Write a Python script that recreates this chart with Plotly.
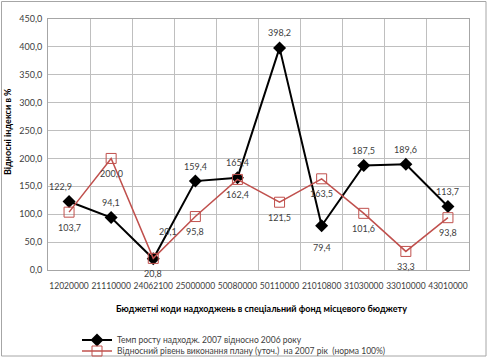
import plotly.graph_objects as go

categories = ["12020000", "21110000", "24062100", "25000000", "50080000",
              "50110000", "21010800", "31030000", "33010000", "43010000"]
growth = [122.9, 94.1, 20.1, 159.4, 165.4, 398.2, 79.4, 187.5, 189.6, 113.7]
plan = [103.7, 200.0, 20.8, 95.8, 162.4, 121.5, 163.5, 101.6, 33.3, 93.8]

name_growth = "Темп росту надходж. 2007 відносно 2006 року"
name_plan = "Відносний рівень виконання плану (уточ.)  на 2007 рік  (норма 100%)"
x_title = "Бюджетні коди надходжень в спеціальний фонд місцевого бюджету"
y_title = "Відносні індекси в %"

FONT = "Lato"
TXT = "#404040"
L, R, T, B = 48, 19, 19, 88
W, H = 488, 358
PW, PH = W - L - R, H - T - B


def px_x(p):
    return (p - L) / PW


def px_y(p):
    return (H - B - p) / PH


fig = go.Figure()
fig.add_trace(go.Scatter(
    x=categories, y=growth, mode="lines+markers", name=name_growth,
    line=dict(color="black", width=2),
    marker=dict(symbol="diamond", size=10, color="black"),
    legend="legend",
))
fig.add_trace(go.Scatter(
    x=categories, y=plan, mode="lines+markers", name=name_plan,
    line=dict(color="#c0504d", width=1.5),
    marker=dict(symbol="square-open", size=10, color="#c0504d", line=dict(width=1)),
    legend="legend2",
))

# data labels (x given as category index)
g_shift = {0: (-9, 15), 2: (15, 27), 6: (0, -22)}
for i, v in enumerate(growth):
    xs, ys = g_shift.get(i, (0, 15))
    fig.add_annotation(x=i, y=v, text=f"{v:.1f}".replace(".", ","), showarrow=False,
                       xshift=xs, yshift=ys, font=dict(family=FONT, size=9, color=TXT))
p_shift = {}
for i, v in enumerate(plan):
    xs, ys = p_shift.get(i, (0, -15))
    fig.add_annotation(x=i, y=v, text=f"{v:.1f}".replace(".", ","), showarrow=False,
                       xshift=xs, yshift=ys, font=dict(family=FONT, size=9, color=TXT))

# axis titles
fig.add_annotation(xref="paper", yref="paper", x=px_x(261), y=px_y(308),
                   text=f"<b>{x_title}</b>", showarrow=False,
                   xanchor="center", yanchor="middle",
                   font=dict(family=FONT, size=9, color="black"))
fig.add_annotation(xref="paper", yref="paper", x=px_x(7), y=px_y(132),
                   text=f"<b>{y_title}</b>", showarrow=False, textangle=-90,
                   xanchor="center", yanchor="middle",
                   font=dict(family=FONT, size=9, color="black"))

# outer chart border
fig.add_shape(type="rect", xref="paper", yref="paper",
              x0=px_x(1.5), x1=px_x(486), y0=px_y(356), y1=px_y(1.5),
              line=dict(color="#a6a6a6", width=1))

fig.update_layout(
    width=W, height=H,
    margin=dict(l=L, r=R, t=T, b=B, autoexpand=False),
    paper_bgcolor="white", plot_bgcolor="white",
    separators=", ",
    font=dict(family=FONT, size=9, color=TXT),
    legend=dict(xref="container", yref="container", x=77 / W, y=1 - 340 / H,
                xanchor="left", yanchor="middle",
                font=dict(family=FONT, size=8.5, color=TXT), bgcolor="rgba(0,0,0,0)"),
    legend2=dict(xref="container", yref="container", x=77 / W, y=1 - 351 / H,
                 xanchor="left", yanchor="middle",
                 font=dict(family=FONT, size=8.5, color=TXT), bgcolor="rgba(0,0,0,0)"),
    showlegend=True,
)
fig.update_xaxes(
    type="category", range=[-0.5, len(categories) - 0.5], tickangle=0,
    tickson="boundaries", showgrid=True, gridcolor="#bfbfbf",
    showline=True, linecolor="#a6a6a6", mirror=True, ticks="", automargin=False,
    ticklabelstandoff=8,
    tickfont=dict(family=FONT, size=8.5, color=TXT),
)
fig.update_yaxes(
    range=[0, 450], dtick=50, tickformat=".1f", showgrid=True, gridcolor="#bfbfbf",
    showline=True, linecolor="#a6a6a6", mirror=True, ticks="", zeroline=False,
    automargin=False, ticklabelstandoff=3,
    tickfont=dict(family=FONT, size=9, color=TXT),
)

fig.write_html("out.html", config={"displayModeBar": False},
               post_script="document.body.style.margin='0';document.body.style.overflow='hidden';")
